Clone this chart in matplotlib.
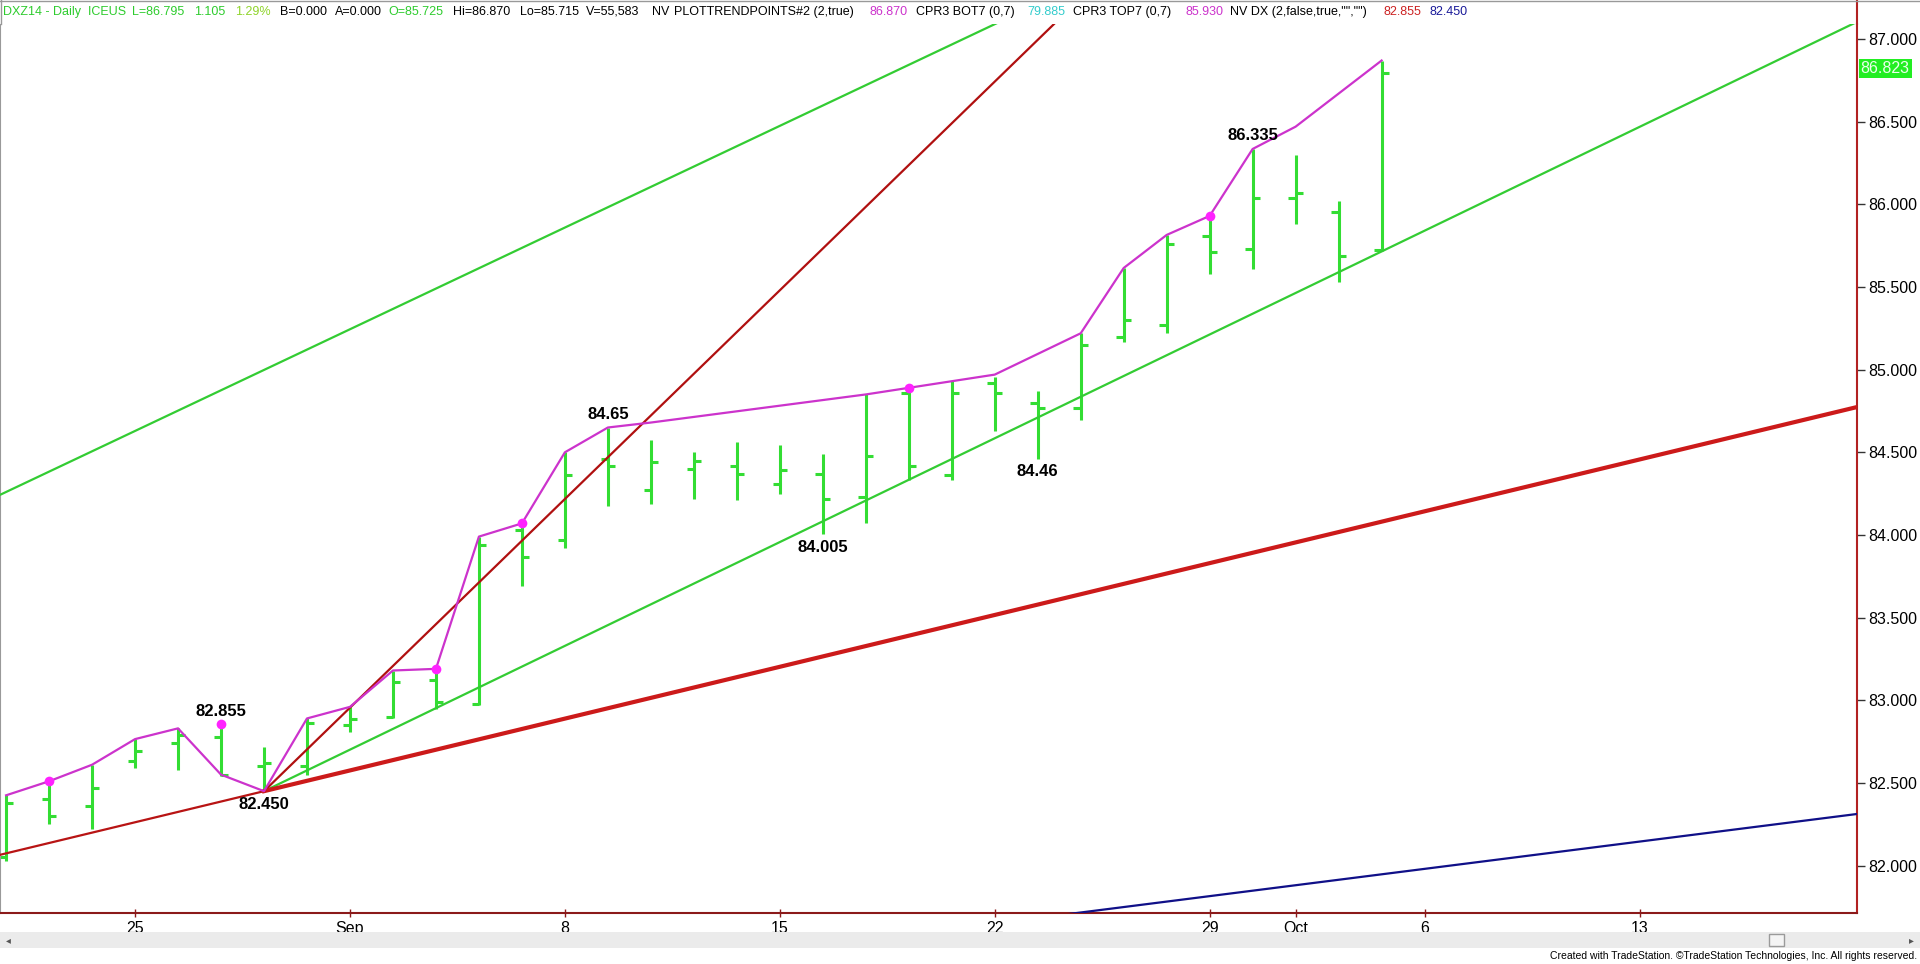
#!/usr/bin/env python3
"""Daily DXZ14 bar chart with trend points and trend lines (TradeStation style)."""

import matplotlib.pyplot as plt
import matplotlib.patches as mpatches
from matplotlib.lines import Line2D
import numpy as np

plt.rcParams['font.family'] = ['Liberation Sans', 'DejaVu Sans']

# --- data (x = trading day index, Aug 20 .. Oct 3) ---
bar_open = [82.05, 82.40, 82.36, 82.63, 82.74, 82.78, 82.60, 82.60, 82.85, 82.90,
            83.12, 82.98, 84.03, 83.97, 84.46, 84.27, 84.40, 84.42, 84.31, 84.37,
            84.23, 84.86, 84.36, 84.92, 84.80, 84.77, 85.20, 85.27, 85.81, 85.73,
            86.04, 85.955, 85.725]
bar_high = [82.425, 82.51, 82.61, 82.765, 82.83, 82.855, 82.72, 82.89, 82.96, 83.18,
            83.19, 83.99, 84.07, 84.50, 84.65, 84.575, 84.50, 84.565, 84.545, 84.49,
            84.85, 84.89, 84.93, 84.955, 84.87, 85.22, 85.615, 85.815, 85.93, 86.335,
            86.30, 86.02, 86.87]
bar_low = [82.03, 82.25, 82.22, 82.59, 82.58, 82.54, 82.45, 82.55, 82.81, 82.89,
           82.95, 82.97, 83.69, 83.92, 84.175, 84.19, 84.215, 84.21, 84.245, 84.005,
           84.07, 84.33, 84.33, 84.63, 84.46, 84.695, 85.17, 85.22, 85.58, 85.61,
           85.88, 85.53, 85.715]
bar_close = [82.38, 82.30, 82.47, 82.69, 82.79, 82.55, 82.62, 82.86, 82.885, 83.11,
             82.99, 83.94, 83.865, 84.36, 84.42, 84.44, 84.45, 84.37, 84.39, 84.22,
             84.48, 84.42, 84.86, 84.86, 84.77, 85.15, 85.30, 85.76, 85.71, 86.04,
             86.07, 85.69, 86.795]

# magenta trend-point line (vertex bar index / price)
trend_idx = [0, 1, 2, 3, 4, 5, 6, 7, 8, 9, 10, 11, 12, 13, 14, 15,
             20, 21, 22, 23, 25, 26, 27, 28, 29, 30, 32]
trend_val = [82.425, 82.51, 82.61, 82.765, 82.83, 82.55, 82.45, 82.89, 82.96, 83.18,
             83.19, 83.99, 84.07, 84.50, 84.65, 84.68, 84.85, 84.89, 84.93, 84.97,
             85.22, 85.615, 85.815, 85.93, 86.335, 86.47, 86.87]

dot_idx = [1, 5, 10, 12, 21, 28]
dot_val = [82.51, 82.855, 83.19, 84.07, 84.89, 85.93]

# swing labels
swing_text = ['82.855', '82.450', '84.65', '84.005', '84.46', '86.335']
swing_idx = [5, 6, 14, 19, 24, 29]
swing_val = [82.855, 82.45, 84.65, 84.005, 84.46, 86.335]
swing_side = ['above', 'below', 'above', 'below', 'below', 'above']

# x tick labels
tick_idx = [3, 8, 13, 18, 23, 28, 30, 33, 38]
tick_lbl = ['25', 'Sep', '8', '15', '22', '29', 'Oct', '6', '13']

# trend lines: two anchor points each (bar index, price)
upper_chan_x, upper_chan_y = [0, 23], [84.26, 87.09]
lower_chan_x, lower_chan_y = [6, 32], [82.45, 85.715]
fast_x, fast_y = [6, 14], [82.45, 84.47]
support_x, support_y = [6, 43], [82.45, 84.77]
blue_x, blue_y = [25, 43], [81.716, 82.31]

last_marker = 86.823

header = [
    (3, 'DXZ14 - Daily  ICEUS', '#2ecc2e'),
    (132, 'L=86.795', '#2ecc2e'),
    (194, '1.105', '#2ecc2e'),
    (235, '1.29%', '#8fd42a'),
    (280, 'B=0.000', 'black'),
    (335, 'A=0.000', 'black'),
    (388, 'O=85.725', '#2ecc2e'),
    (453, 'Hi=86.870', 'black'),
    (520, 'Lo=85.715', 'black'),
    (586, 'V=55,583', 'black'),
    (652, 'NV', 'black'),
    (674, 'PLOTTRENDPOINTS#2 (2,true)', 'black'),
    (870, '86.870', '#cc33cc'),
    (916, 'CPR3 BOT7 (0,7)', 'black'),
    (1027, '79.885', '#33cccc'),
    (1073, 'CPR3 TOP7 (0,7)', 'black'),
    (1185, '85.930', '#cc33cc'),
    (1230, 'NV DX (2,false,true,"","")', 'black'),
    (1384, '82.855', '#cc2222'),
    (1430, '82.450', '#1a1a99'),
]


def extend(xa, ya, x0, x1):
    slope = (ya[1] - ya[0]) / (xa[1] - xa[0])
    xs = np.array([x0, x1])
    return xs, ya[0] + slope * (xs - xa[0])


W, H = 1920, 964
fig = plt.figure(figsize=(W / 100, H / 100), dpi=100)
ax = fig.add_axes([0, 51 / H, 1857 / W, 889 / H])

XL, XR = -0.142, 43.06
ax.set_xlim(XL, XR)
ax.set_ylim(81.713, 87.091)

# --- bars ---
green = '#33dd33'
x = np.arange(len(bar_open))
ax.vlines(x, bar_low, bar_high, color=green, lw=2.2, zorder=2)
ax.hlines(bar_open, x - 0.17, x, color=green, lw=2.2, zorder=2)
ax.hlines(bar_close, x, x + 0.17, color=green, lw=2.2, zorder=2)

# --- trend lines ---
xs, ys = extend(upper_chan_x, upper_chan_y, XL, XR)
ax.plot(xs, ys, color='#33cc33', lw=1.6, zorder=3)
xs, ys = extend(lower_chan_x, lower_chan_y, lower_chan_x[0], XR)
ax.plot(xs, ys, color='#33cc33', lw=1.6, zorder=3)
xs, ys = extend(fast_x, fast_y, fast_x[0], XR)
ax.plot(xs, ys, color='#b01010', lw=1.6, zorder=3)
xs, ys = extend(support_x, support_y, XL, support_x[0])
ax.plot(xs, ys, color='#b81414', lw=1.6, zorder=3)
xs, ys = extend(support_x, support_y, support_x[0], XR)
ax.plot(xs, ys, color='#cc1a1a', lw=3.0, zorder=3)
xs, ys = extend(blue_x, blue_y, 20, XR)
ax.plot(xs, ys, color='#101088', lw=1.6, zorder=3)

# --- trend points ---
ax.plot(trend_idx, trend_val, color='#cc33cc', lw=1.6, zorder=4)
ax.plot(dot_idx, dot_val, 'o', color='#ff22ff', ms=7, mec='none', zorder=5)

for t, i, v, side in zip(swing_text, swing_idx, swing_val, swing_side):
    off = 4 if side == 'above' else -4
    ax.annotate(t, xy=(i, v), xytext=(0, off), textcoords='offset points',
                ha='center', va='bottom' if side == 'above' else 'top',
                fontsize=12, fontweight='bold', color='black', zorder=6)

# --- axes styling ---
ax.yaxis.tick_right()
ax.set_yticks(np.arange(82, 87.01, 0.5))
ax.set_yticklabels([f'{v:.3f}' for v in np.arange(82, 87.01, 0.5)])
ax.tick_params(axis='y', length=6, width=1, color='#333333', labelsize=11.5, pad=2)
ax.set_xticks(tick_idx)
ax.set_xticklabels(tick_lbl)
ax.tick_params(axis='x', direction='inout', length=6, width=1, color='#8b1a1a',
               labelsize=11.5, pad=3)
ax.spines['top'].set_visible(False)
ax.spines['left'].set_color('#999999')
ax.spines['right'].set_color('#b22222')
ax.spines['right'].set_linewidth(1.5)
ax.spines['bottom'].set_color('#8b1a1a')
ax.spines['bottom'].set_linewidth(1.5)

# last price marker
ax.text(1.002, last_marker, f'{last_marker:.3f}', transform=ax.get_yaxis_transform(),
        ha='left', va='center', fontsize=11.5, color='#eaffea', clip_on=False,
        bbox=dict(boxstyle='square,pad=0.12', fc='#22ee22', ec='none'))

# right axis line continues up through the header, window border
fig.add_artist(Line2D([1857 / W] * 2, [1 - 24 / H, 1], color='#b22222', lw=1.5))
fig.add_artist(Line2D([0, 1], [1 - 1 / H] * 2, color='#999999', lw=1))
fig.add_artist(Line2D([0.5 / W] * 2, [1 - 24 / H, 1], color='#999999', lw=1))

# header
for px, txt, col in header:
    fig.text(px / W, 1 - 12 / H, txt, color=col, fontsize=9, ha='left', va='center')

# scrollbar
fig.add_artist(mpatches.Rectangle((0, 1 - 948 / H), 1, 16 / H, transform=fig.transFigure,
                                  fc='#ebebeb', ec='none'))
fig.add_artist(mpatches.Rectangle((1769 / W, 1 - 946 / H), 15 / W, 12 / H,
                                  transform=fig.transFigure, fc='#f4f4f4', ec='#9a9a9a', lw=1))
fig.text(6 / W, 1 - 940 / H, '\u25c2', fontsize=7, color='#555555', ha='left', va='center',
         family='DejaVu Sans')
fig.text(1914 / W, 1 - 940 / H, '\u25b8', fontsize=7, color='#555555', ha='right', va='center',
         family='DejaVu Sans')

fig.text(1917 / W, 1 - 956 / H,
         'Created with TradeStation. \u00a9TradeStation Technologies, Inc. All rights reserved.',
         fontsize=7.5, ha='right', va='center', color='black')

plt.savefig('out.png', dpi=100)
print("Saved out.png")
